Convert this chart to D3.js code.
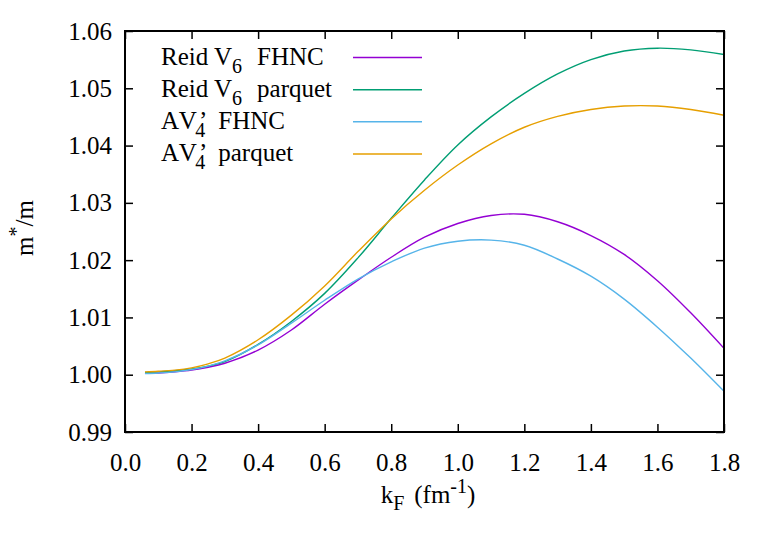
<!DOCTYPE html>
<html>
<head>
<meta charset="utf-8">
<script src="https://cdn.jsdelivr.net/npm/d3@7"></script>
<style>
  body { margin: 0; background: #fff; }
  svg text { font-family: "Liberation Serif", "Times New Roman", serif; fill: #000; }
</style>
</head>
<body>
<script>
// k_F values (fm^-1)
const kF = [0.06, 0.1, 0.15, 0.2, 0.25, 0.3, 0.4, 0.5, 0.6, 0.7, 0.8, 0.9, 1.0, 1.1, 1.2, 1.3, 1.4, 1.5, 1.6, 1.7, 1.8];

// m*/m
const reidFhnc    = [1.0003, 1.0003, 1.0005, 1.0008, 1.0013, 1.0020, 1.0043, 1.0078, 1.0123, 1.0165, 1.0205, 1.0240, 1.0264, 1.0278, 1.0280, 1.0267, 1.0243, 1.0210, 1.0164, 1.0108, 1.0046];
const reidParquet = [1.0004, 1.0005, 1.0007, 1.0010, 1.0015, 1.0023, 1.0053, 1.0093, 1.0142, 1.0204, 1.0273, 1.0340, 1.0401, 1.0450, 1.0491, 1.0525, 1.0550, 1.0565, 1.0570, 1.0567, 1.0559];
const av4Fhnc     = [1.0002, 1.0003, 1.0005, 1.0009, 1.0015, 1.0024, 1.0052, 1.0090, 1.0130, 1.0167, 1.0197, 1.0221, 1.0233, 1.0235, 1.0226, 1.0202, 1.0172, 1.0132, 1.0083, 1.0029, 0.9971];
const av4Parquet  = [1.0005, 1.0006, 1.0008, 1.0012, 1.0019, 1.0029, 1.0061, 1.0104, 1.0155, 1.0215, 1.0272, 1.0322, 1.0366, 1.0403, 1.0432, 1.0451, 1.0463, 1.0469, 1.0469, 1.0463, 1.0453];

const xTicks = [0.0, 0.2, 0.4, 0.6, 0.8, 1.0, 1.2, 1.4, 1.6, 1.8];
const yTicks = [0.99, 1.00, 1.01, 1.02, 1.03, 1.04, 1.05, 1.06];

const series = [
  { base: "Reid V", sub: "6", prime: false, rest: "FHNC",    values: reidFhnc,    color: "#9400d3" },
  { base: "Reid V", sub: "6", prime: false, rest: "parquet", values: reidParquet, color: "#009e73" },
  { base: "AV",     sub: "4", prime: true,  rest: "FHNC",    values: av4Fhnc,     color: "#56b4e9" },
  { base: "AV",     sub: "4", prime: true,  rest: "parquet", values: av4Parquet,  color: "#e69f00" }
];

const W = 771, H = 540;
const margin = { top: 31, right: 47, bottom: 108, left: 125 };
const width = W - margin.left - margin.right;
const height = H - margin.top - margin.bottom;

const svg = d3.select("body").append("svg")
  .attr("width", W)
  .attr("height", H);

const g = svg.append("g")
  .attr("transform", `translate(${margin.left},${margin.top})`);

const x = d3.scaleLinear().domain([0, 1.8]).range([0, width]);
const y = d3.scaleLinear().domain([0.99, 1.06]).range([height, 0]);

const fontSize = 25;
const subSize = 20;
const tickLen = 8;
const serif = "Liberation Serif, serif";

// ticks on all four sides, pointing inwards
g.append("g")
  .attr("transform", `translate(0,${height})`)
  .call(d3.axisBottom(x).tickValues(xTicks).tickSizeInner(-tickLen).tickSizeOuter(0).tickPadding(21).tickFormat(d3.format(".1f")))
  .attr("font-family", serif).attr("font-size", fontSize)
  .call(a => a.select(".domain").remove());

g.append("g")
  .call(d3.axisTop(x).tickValues(xTicks).tickSizeInner(-tickLen).tickSizeOuter(0).tickFormat(""))
  .call(a => a.select(".domain").remove());

g.append("g")
  .call(d3.axisLeft(y).tickValues(yTicks).tickSizeInner(-tickLen).tickSizeOuter(0).tickPadding(13).tickFormat(d3.format(".2f")))
  .attr("font-family", serif).attr("font-size", fontSize)
  .call(a => a.select(".domain").remove());

g.append("g")
  .attr("transform", `translate(${width},0)`)
  .call(d3.axisRight(y).tickValues(yTicks).tickSizeInner(-tickLen).tickSizeOuter(0).tickFormat(""))
  .call(a => a.select(".domain").remove());

g.selectAll(".tick line").attr("stroke", "#000").attr("stroke-width", 1.5);

// curves
const line = d3.line()
  .x((d, i) => x(kF[i]))
  .y(d => y(d))
  .curve(d3.curveCatmullRom.alpha(0.5));

g.append("g").selectAll("path")
  .data(series)
  .join("path")
  .attr("fill", "none")
  .attr("stroke", d => d.color)
  .attr("stroke-width", 1.4)
  .attr("d", d => line(d.values));

// frame
g.append("rect")
  .attr("width", width)
  .attr("height", height)
  .attr("fill", "none")
  .attr("stroke", "#000")
  .attr("stroke-width", 2);

// legend
const legend = svg.append("g");
const legRows = [57.5, 89.7, 121.8, 154];
series.forEach((s, i) => {
  const ly = legRows[i];
  const t = legend.append("text")
    .attr("x", 161)
    .attr("y", ly + 7)
    .style("font-size", fontSize + "px");
  if (s.prime) {
    // AV'_4 : prime on top, subscript below it
    t.append("tspan").text("A");
    t.append("tspan").attr("dx", 3).text("V");
    t.append("tspan").attr("dx", 2).text("’");
    t.append("tspan").attr("dx", -12).attr("dy", 8).style("font-size", subSize + "px").text(s.sub);
    t.append("tspan").attr("dx", 13).attr("dy", -8).text(s.rest);
  } else {
    t.append("tspan").text(s.base);
    t.append("tspan").attr("dy", 8).style("font-size", subSize + "px").text(s.sub);
    t.append("tspan").attr("dy", -8).attr("dx", 15).text(s.rest);
  }

  legend.append("line")
    .attr("x1", 353).attr("x2", 422)
    .attr("y1", ly).attr("y2", ly)
    .attr("stroke", s.color)
    .attr("stroke-width", 1.4);
});

// axis labels
const xl = svg.append("text")
  .attr("x", 428)
  .attr("y", 503)
  .attr("text-anchor", "middle")
  .style("font-size", fontSize + "px");
xl.append("tspan").text("k");
xl.append("tspan").attr("dy", 7).style("font-size", subSize + "px").text("F");
xl.append("tspan").attr("dy", -7).attr("dx", 10).text("(fm");
xl.append("tspan").attr("dy", -10).style("font-size", subSize + "px").text("-1");
xl.append("tspan").attr("dy", 10).text(")");

const yl = svg.append("text")
  .attr("transform", "translate(33,228) rotate(-90)")
  .attr("text-anchor", "middle")
  .style("font-size", fontSize + "px");
yl.append("tspan").text("m");
yl.append("tspan").attr("dy", -10).style("font-size", subSize + "px").text("*");
yl.append("tspan").attr("dy", 10).text("/m");
</script>
</body>
</html>
